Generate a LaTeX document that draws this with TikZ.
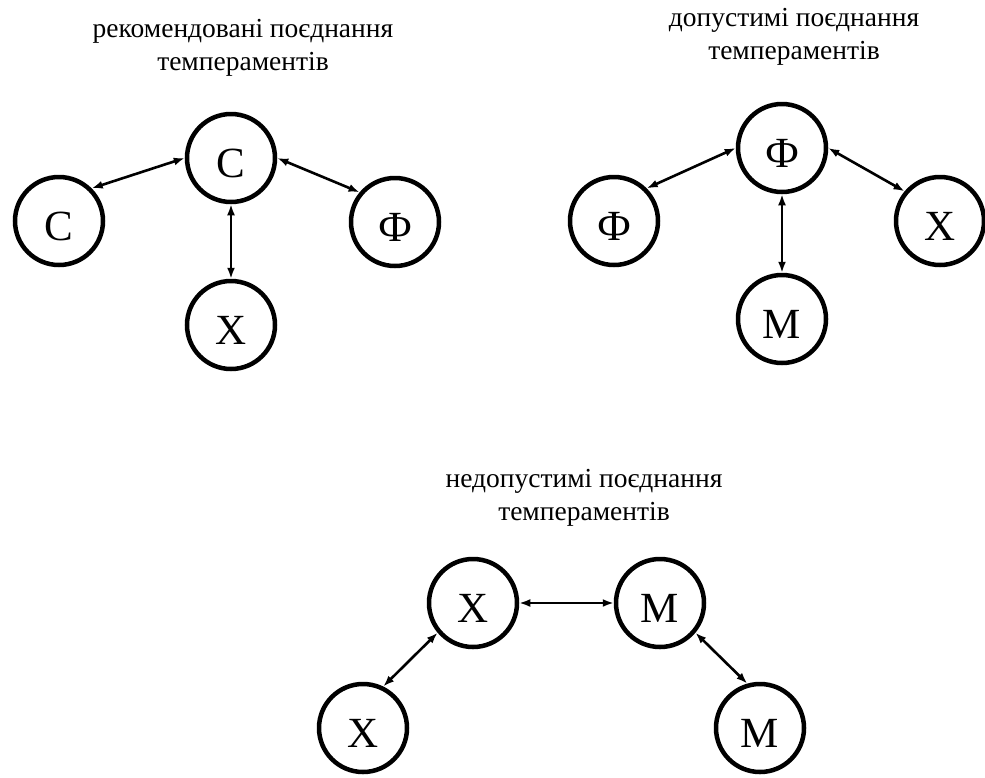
\documentclass[tikz,border=0pt]{standalone}
\usepackage{fontspec}
\setmainfont{Liberation Serif}
\usetikzlibrary{positioning,arrows.meta}

\begin{document}
\begin{tikzpicture}[x=1pt, y=-1pt,
  temp/.style={circle, draw=black, line width=4.5pt, minimum size=88pt, inner sep=0pt, font=\fontsize{43}{43}\selectfont, text height=39pt, text depth=1pt},
  arr/.style={{Latex[length=11pt,width=8pt]}-{Latex[length=11pt,width=8pt]}, line width=2.6pt},
  ttl/.style={align=center, font=\fontsize{27.5}{33}\selectfont}
]
\useasboundingbox (0,0) rectangle (985,777);

% рекомендовані
\node[ttl] (t1) at (243,48) {рекомендовані поєднання\\темпераментів};
\node[temp] (s0) at (231,158) {С};
\node[temp] (s1) at (59,221) {С};
\node[temp] (s2) at (395,222) {Ф};
\node[temp] (s3) at (231,325) {Х};
\draw[arr] (s1.45) -- (s0.west);
\draw[arr] (s0.east) -- (s2.140);
\draw[arr] (s0.south) -- (s3.north);

% допустимі
\node[ttl] (t2) at (794,37) {допустимі поєднання\\темпераментів};
\node[temp] (d0) at (782,148) {Ф};
\node[temp] (d1) at (614,221) {Ф};
\node[temp] (d2) at (940,221) {Х};
\node[temp] (d3) at (782,319) {М};
\draw[arr] (d1.45) -- (d0.west);
\draw[arr] (d0.east) -- (d2.140);
\draw[arr] (d0.south) -- (d3.north);

% недопустимі
\node[ttl] (t3) at (584,498) {недопустимі поєднання\\темпераментів};
\node[temp] (n0) at (473,603) {Х};
\node[temp] (n1) at (660,603) {М};
\node[temp] (n2) at (363,728) {Х};
\node[temp] (n3) at (760,728) {М};
\draw[arr] (n0.east) -- (n1.west);
\draw[arr] (n2.64) -- (n0.220);
\draw[arr] (n1.320) -- (n3.106);
\end{tikzpicture}
\end{document}
